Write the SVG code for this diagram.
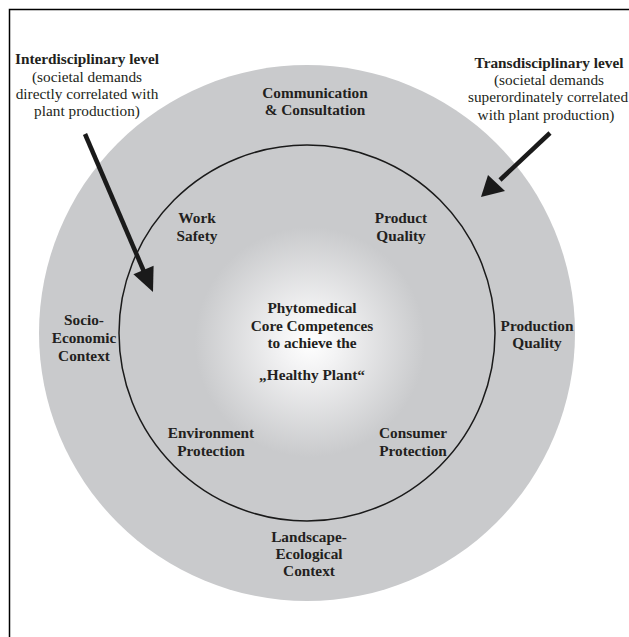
<svg xmlns="http://www.w3.org/2000/svg" width="629" height="637" viewBox="0 0 629 637">
<style>
text{font-family:"Liberation Serif","Times New Roman",serif;fill:#231f20;text-anchor:middle;font-size:15.3px}
.b{font-weight:bold}
.shaft{stroke:#1a1a1a;stroke-width:4.5;fill:none}
.head{fill:#1a1a1a}
</style>
<defs>
<radialGradient id="glow" gradientUnits="userSpaceOnUse" cx="310" cy="342" r="115">
<stop offset="0" stop-color="#ffffff"/>
<stop offset="0.25" stop-color="#f3f3f4"/>
<stop offset="1" stop-color="#c9cacc"/>
</radialGradient>
</defs>
<rect x="0" y="0" width="629" height="637" fill="#ffffff"/>
<rect x="9.5" y="9.5" width="700" height="700" fill="none" stroke="#000" stroke-width="1.5"/>
<g id="outer-ring">
<circle cx="307" cy="333" r="268" fill="#c9cacc"/>
</g>
<g id="inner-circle">
<circle cx="307" cy="333" r="188" fill="url(#glow)" stroke="#1a1a1a" stroke-width="1.5"/>
</g>
<g id="core">
<text class="b" x="312" y="313">Phytomedical</text>
<text class="b" x="312" y="331">Core Competences</text>
<text class="b" x="312" y="348">to achieve the</text>
<text class="b" x="312" y="380">„Healthy Plant“</text>
</g>
<g id="work-safety"><text class="b" x="197" y="223">Work</text><text class="b" x="197" y="241">Safety</text></g>
<g id="product-quality"><text class="b" x="401" y="223">Product</text><text class="b" x="401" y="241">Quality</text></g>
<g id="environment-protection"><text class="b" x="211" y="438">Environment</text><text class="b" x="211" y="456">Protection</text></g>
<g id="consumer-protection"><text class="b" x="413" y="438">Consumer</text><text class="b" x="413" y="456">Protection</text></g>
<g id="communication"><text class="b" x="315" y="98">Communication</text><text class="b" x="315" y="115">&amp; Consultation</text></g>
<g id="socio-economic"><text class="b" x="84" y="325">Socio-</text><text class="b" x="84" y="343">Economic</text><text class="b" x="84" y="361">Context</text></g>
<g id="production-quality"><text class="b" x="537" y="331">Production</text><text class="b" x="537" y="348">Quality</text></g>
<g id="landscape"><text class="b" x="309" y="542">Landscape-</text><text class="b" x="309" y="559">Ecological</text><text class="b" x="309" y="576">Context</text></g>
<g id="interdisciplinary">
<text class="b" x="87" y="64">Interdisciplinary level</text>
<text x="87" y="82">(societal demands</text>
<text x="87" y="99">directly correlated with</text>
<text x="87" y="116">plant production)</text>
</g>
<g id="transdisciplinary">
<text class="b" x="549" y="68">Transdisciplinary level</text>
<text x="549" y="85">(societal demands</text>
<text x="548" y="102">superordinately correlated</text>
<text x="546" y="120">with plant production)</text>
</g>
<g id="connectors">
<line class="shaft" x1="85" y1="134" x2="145" y2="274"/>
<polygon class="head" points="153,292 133.4,274.3 153.6,265.7"/>
<line class="shaft" x1="550" y1="133" x2="500" y2="180"/>
<polygon class="head" points="481,197 488,175 505,191"/>
</g>
</svg>
